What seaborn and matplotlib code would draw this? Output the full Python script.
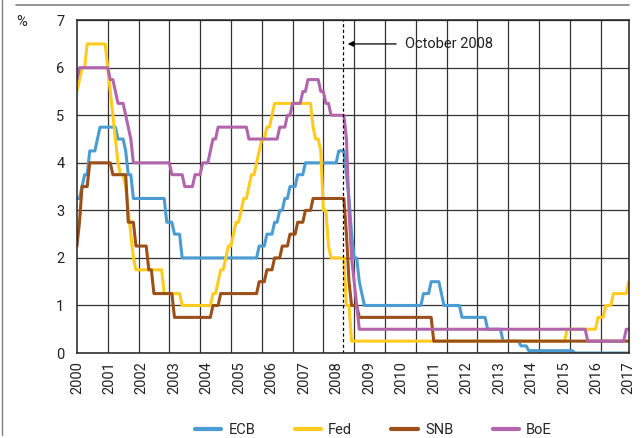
import numpy as np
import pandas as pd
import matplotlib.pyplot as plt
import seaborn as sns
from matplotlib.lines import Line2D

# Policy rate changes: (year, month, rate in %) from that month on
ecb_changes = [(2000, 1, 3.25), (2000, 3, 3.5), (2000, 4, 3.75), (2000, 6, 4.25), (2000, 9, 4.5),
               (2000, 10, 4.75), (2001, 5, 4.5), (2001, 8, 4.25), (2001, 9, 3.75), (2001, 11, 3.25),
               (2002, 12, 2.75), (2003, 3, 2.5), (2003, 6, 2.0), (2005, 12, 2.25), (2006, 3, 2.5),
               (2006, 6, 2.75), (2006, 8, 3.0), (2006, 10, 3.25), (2006, 12, 3.5), (2007, 3, 3.75),
               (2007, 6, 4.0), (2008, 7, 4.25), (2008, 10, 3.75), (2008, 11, 3.25), (2008, 12, 2.5),
               (2009, 1, 2.0), (2009, 3, 1.5), (2009, 4, 1.25), (2009, 5, 1.0), (2011, 4, 1.25),
               (2011, 7, 1.5), (2011, 11, 1.25), (2011, 12, 1.0), (2012, 7, 0.75), (2013, 5, 0.5),
               (2013, 11, 0.25), (2014, 6, 0.15), (2014, 9, 0.05), (2016, 3, 0.0)]

fed_changes = [(2000, 1, 5.5), (2000, 2, 5.75), (2000, 3, 6.0), (2000, 5, 6.5), (2001, 1, 6.0),
               (2001, 2, 5.5), (2001, 3, 5.0), (2001, 4, 4.5), (2001, 5, 4.0), (2001, 6, 3.75),
               (2001, 8, 3.5), (2001, 9, 3.0), (2001, 10, 2.5), (2001, 11, 2.0), (2001, 12, 1.75),
               (2002, 11, 1.25), (2003, 6, 1.0), (2004, 6, 1.25), (2004, 8, 1.5), (2004, 9, 1.75),
               (2004, 11, 2.0), (2004, 12, 2.25), (2005, 2, 2.5), (2005, 3, 2.75), (2005, 5, 3.0),
               (2005, 6, 3.25), (2005, 8, 3.5), (2005, 9, 3.75), (2005, 11, 4.0), (2005, 12, 4.25),
               (2006, 1, 4.5), (2006, 3, 4.75), (2006, 5, 5.0), (2006, 6, 5.25), (2007, 9, 4.75),
               (2007, 10, 4.5), (2007, 12, 4.25), (2008, 1, 3.0), (2008, 3, 2.25), (2008, 4, 2.0),
               (2008, 10, 1.0), (2008, 12, 0.25), (2015, 12, 0.5), (2016, 12, 0.75), (2017, 3, 1.0),
               (2017, 6, 1.25), (2017, 12, 1.5)]

snb_changes = [(2000, 1, 2.25), (2000, 2, 2.75), (2000, 3, 3.5), (2000, 6, 4.0), (2001, 3, 3.75),
               (2001, 9, 2.75), (2001, 12, 2.25), (2002, 5, 1.75), (2002, 7, 1.25), (2003, 3, 0.75),
               (2004, 6, 1.0), (2004, 9, 1.25), (2005, 12, 1.5), (2006, 3, 1.75), (2006, 6, 2.0),
               (2006, 9, 2.25), (2006, 12, 2.5), (2007, 3, 2.75), (2007, 6, 3.0), (2007, 9, 3.25),
               (2008, 10, 2.5), (2008, 11, 1.5), (2008, 12, 1.0), (2009, 3, 0.75), (2011, 8, 0.25)]

boe_changes = [(2000, 1, 5.75), (2000, 2, 6.0), (2001, 2, 5.75), (2001, 4, 5.5), (2001, 5, 5.25),
               (2001, 8, 5.0), (2001, 9, 4.75), (2001, 10, 4.5), (2001, 11, 4.0), (2003, 2, 3.75),
               (2003, 7, 3.5), (2003, 11, 3.75), (2004, 2, 4.0), (2004, 5, 4.25), (2004, 6, 4.5),
               (2004, 8, 4.75), (2005, 8, 4.5), (2006, 8, 4.75), (2006, 11, 5.0), (2007, 1, 5.25),
               (2007, 5, 5.5), (2007, 7, 5.75), (2007, 12, 5.5), (2008, 2, 5.25), (2008, 4, 5.0),
               (2008, 10, 4.5), (2008, 11, 3.0), (2008, 12, 2.0), (2009, 1, 1.5), (2009, 2, 1.0),
               (2009, 3, 0.5), (2016, 8, 0.25), (2017, 11, 0.5)]

banks = ['ECB', 'Fed', 'SNB', 'BoE']
colors = ['#4b9cd3', '#ffcb1f', '#9b4f19', '#b265ad']
year_labels = [str(y) for y in range(2000, 2018)]
n_months = 216  # Jan 2000 .. Dec 2017


def to_monthly(changes):
    vals = np.empty(n_months)
    for y, m, v in changes:
        vals[(y - 2000) * 12 + m - 1:] = v
    return vals


# Long format table for seaborn
frames = []
for name, ch in zip(banks, [ecb_changes, fed_changes, snb_changes, boe_changes]):
    frames.append(pd.DataFrame({'month': np.arange(n_months), 'rate': to_monthly(ch), 'bank': name}))
df = pd.concat(frames, ignore_index=True)

sns.set_style('white')
plt.rcParams['font.family'] = ['Roboto', 'DejaVu Sans']
txt_color = '#222222'
fs = 10.5

fig = plt.figure(figsize=(6.41, 4.38), dpi=100)
ax = fig.add_axes([0.120, 0.194, 0.861, 0.760])

sns.lineplot(data=df, x='month', y='rate', hue='bank', hue_order=banks,
             palette=colors, linewidth=2.2, ax=ax)

# Axes, grid
ax.set_xlim(0, n_months - 1)
ax.set_ylim(0, 7)
ax.set_yticks(range(0, 8))
ax.set_xticks(np.linspace(0, n_months - 1, 18))
ax.set_xticklabels(year_labels, rotation=90)
ax.set_xticks(np.arange(0, n_months, 12), minor=True)
ax.tick_params(axis='x', which='both', length=0, pad=6, labelsize=fs, colors=txt_color)
ax.tick_params(axis='y', length=0, pad=9, labelsize=fs, colors=txt_color)
ax.grid(False)
ax.grid(True, axis='x', which='minor', color='#333333', lw=0.9)
ax.grid(True, axis='y', which='major', color='#333333', lw=0.9)
ax.set_axisbelow(True)
for s in ax.spines.values():
    s.set_visible(True)
    s.set_color(txt_color)
    s.set_linewidth(1.1)
ax.set_xlabel('')
ax.set_ylabel('')

# October 2008 marker
oct_2008 = 103.5
ax.axvline(oct_2008, color='black', lw=0.9, ls=(0, (2.5, 2)))
ax.annotate('October 2008', xy=(oct_2008 + 2, 6.5), xytext=(127.8, 6.5),
            ha='left', va='center', fontsize=fs, color=txt_color,
            arrowprops=dict(arrowstyle='-|>', color='black', lw=0.9,
                            mutation_scale=8, shrinkA=4, shrinkB=0))

fig.text(16 / 641, 1 - 22 / 438, '%', ha='left', va='center', fontsize=fs, color=txt_color)

# Legend below the plot
sns.move_legend(ax, 'center', bbox_to_anchor=(0.537, -0.232), ncol=4, frameon=False,
                title=None, fontsize=fs, handlelength=1.8, handletextpad=0.5,
                columnspacing=2.7)
for h in ax.get_legend().legend_handles:
    h.set_linewidth(3)

# Frame lines around the figure
fig.add_artist(Line2D([16 / 641, 629 / 641], [1 - 5 / 438, 1 - 5 / 438], color='#808080', lw=1.2))
fig.add_artist(Line2D([1.5 / 641, 1.5 / 641], [1 - 435 / 438, 1.0], color='#808080', lw=1.0))

fig.savefig('out.png', dpi=100)
